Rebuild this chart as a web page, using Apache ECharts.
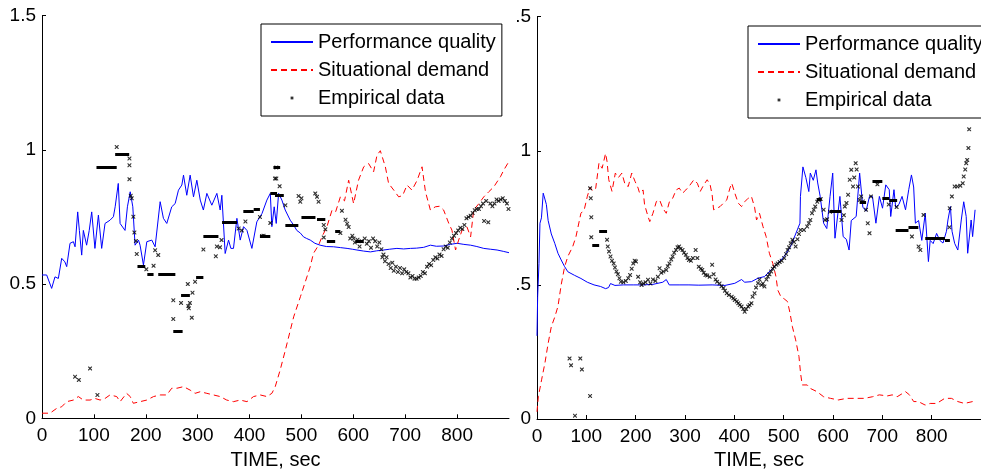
<!DOCTYPE html>
<html>
<head>
<meta charset="utf-8">
<script src="https://cdn.jsdelivr.net/npm/echarts@6/dist/echarts.min.js"></script>
<style>
html,body{margin:0;padding:0;background:#fff;}
#chart{width:981px;height:476px;}
</style>
</head>
<body>
<div id="chart"></div>
<script>
// ---------- tick labels ----------
var xTicks = [0, 100, 200, 300, 400, 500, 600, 700, 800];
var yTicks = [0, 0.5, 1, 1.5];
var rightYLabels = ['0', '.5', '1', '.5'];
var legendNames = ['Performance quality', 'Situational demand', 'Empirical data'];
var xTitle = 'TIME, sec';

// ---------- LEFT panel ----------
var perfL = [[0,0.534],[9,0.534],[18.6,0.484],[25,0.527],[31.5,0.521],[38,0.596],[44,0.583],[47.6,0.565],[54,0.652],[60.5,0.658],[63.7,0.639],[68.8,0.769],[72,0.70],[76.5,0.608],[79.7,0.70],[86,0.645],[91,0.70],[95.8,0.769],[102,0.633],[108.7,0.757],[115,0.633],[121.5,0.726],[131,0.738],[137.6,0.751],[141,0.788],[147,0.875],[150.5,0.726],[160,0.70],[164.6,0.788],[170,0.844],[175,0.788],[179.4,0.645],[186,0.664],[189,0.645],[195.5,0.571],[202,0.658],[211.6,0.664],[218,0.639],[227.7,0.807],[234,0.745],[240.5,0.726],[250,0.788],[256.6,0.80],[263,0.85],[269.5,0.869],[272.7,0.906],[279,0.831],[285.5,0.906],[292,0.825],[298.4,0.887],[305,0.813],[311,0.776],[317.7,0.838],[327.3,0.794],[337,0.838],[343.4,0.776],[346.6,0.831],[353,0.614],[359.5,0.664],[364,0.633],[369,0.633],[375.6,0.745],[382,0.664],[388.4,0.714],[395,0.70],[404.5,0.633],[414,0.732],[424,0.763],[433.4,0.813],[440,0.838],[443,0.714],[447.5,0.788],[451.4,0.726],[456,0.838],[462.3,0.813],[468.7,0.776],[478.4,0.738],[485,0.72],[491,0.70],[498,0.69],[504,0.676],[510,0.67],[517,0.664],[526,0.652],[536,0.645],[548,0.64],[562,0.639],[575,0.636],[588,0.633],[598,0.63],[607,0.627],[620,0.623],[633,0.62],[645,0.624],[658.4,0.627],[670,0.63],[684,0.633],[697,0.631],[710,0.633],[722,0.634],[735.6,0.637],[748.5,0.645],[760,0.641],[774,0.642],[787,0.648],[800,0.652],[813,0.648],[826,0.645],[838,0.64],[851.4,0.633],[864,0.63],[877,0.627],[889,0.622],[900,0.617]];

var demandL = [[0,0.019],[15.4,0.019],[28.3,0.037],[38,0.043],[47.6,0.062],[60.5,0.068],[70,0.081],[79.7,0.068],[92.6,0.068],[102,0.074],[112,0.068],[121.5,0.074],[131,0.087],[144,0.081],[150.5,0.062],[163,0.093],[170,0.081],[176,0.056],[189,0.062],[202,0.068],[215,0.081],[227.7,0.087],[240.5,0.087],[250,0.112],[260,0.112],[272.7,0.118],[285.5,0.105],[295,0.093],[305,0.099],[317.7,0.093],[330.5,0.087],[343.4,0.081],[356,0.068],[369,0.062],[382,0.068],[395,0.062],[407.7,0.081],[420.6,0.087],[433.4,0.081],[443,0.093],[449.5,0.118],[459,0.18],[469,0.254],[485,0.378],[498,0.453],[517,0.565],[523,0.614],[533,0.645],[539.5,0.676],[549,0.713],[559,0.776],[566,0.77],[575,0.825],[583,0.81],[591,0.887],[600.5,0.80],[610,0.887],[620,0.937],[629.5,0.949],[639,0.918],[645.6,0.98],[652,0.997],[661.7,0.937],[668,0.875],[678,0.85],[687.4,0.825],[695,0.83],[703.5,0.869],[713,0.85],[723,0.887],[732.4,0.937],[739,0.844],[748.5,0.776],[758,0.788],[766,0.79],[774,0.776],[784,0.726],[790,0.701],[797,0.627],[803,0.664],[809.6,0.701],[819,0.713],[826,0.676],[832,0.776],[842,0.80],[851.4,0.825],[861,0.844],[870.6,0.862],[883.5,0.90],[890,0.925],[899.6,0.956]];

var empL = [[63.7,0.155],[71,0.143],[92.6,0.186],[106.8,0.087],[144,1.011],[168.5,0.968],[168.5,0.943],[168.5,0.891],[171,0.829],[173,0.82],[176,0.751],[178,0.692],[181,0.661],[182.6,0.612],[201,0.555],[215,0.568],[218,0.626],[224,0.608],[253,0.44],[253,0.37],[268,0.43],[281,0.50],[282,0.418],[285,0.43],[283,0.41],[288.7,0.375],[290,0.468],[295,0.509],[311,0.629],[337,0.64],[343,0.637],[346,0.664],[335,0.604],[379,0.707],[385,0.70],[392,0.733],[420,0.75],[424,0.679],[427,0.68],[440,0.728],[451.5,0.893],[451.5,0.934],[449,0.893],[458,0.865],[469,0.794],[494.5,0.828],[497.7,0.807],[500,0.82],[526.6,0.838],[530,0.825],[533,0.807],[543,0.72],[546,0.704],[543,0.674],[575,0.69],[578,0.773],[585,0.74],[588,0.725],[591,0.713],[600.6,0.67],
[594,0.67],[598,0.68],[603,0.655],[608,0.665],[612,0.64],[616,0.66],[622,0.67],[626,0.65],[630,0.66],[634,0.635],[638,0.67],[642,0.66],[646,0.64],[650,0.655],[654,0.63],[656,0.60],[658,0.61],[661,0.585],[664,0.6],[668,0.575],[672,0.56],[675,0.58],[678,0.55],[682,0.565],[686,0.545],[690,0.56],[694,0.54],[698,0.555],[702,0.545],[706,0.54],[710,0.525],[714,0.53],[718,0.52],[722,0.52],[726,0.525],[730,0.53],[734,0.545],[738,0.54],[742,0.565],[746,0.575],[750,0.57],[754,0.59],[758,0.6],[762,0.595],[766,0.61],[770,0.605],[774,0.63],[778,0.64],[782,0.635],[786,0.655],[790,0.67],[794,0.68],[798,0.69],[802,0.70],[806,0.71],[810,0.705],[814,0.72],[818,0.745],[822,0.75],[826,0.755],[830,0.765],[834,0.775],[838,0.78],[842,0.78],[846,0.79],[850,0.80],[852,0.735],[856,0.81],[860,0.73],[864,0.80],[868,0.79],[872,0.80],[876,0.815],[880,0.81],[884,0.815],[888,0.82],[892,0.81],[896,0.80],[899,0.78]];

// runs of repeated samples: [start, end, value]
var empRunsL = [[105,144,0.937],[141,168,0.984],[184,199,0.567],[203,215,0.536],[224,257,0.537],[253,271,0.326],[268,285,0.46],[297,311,0.527],[311,340,0.679],[347,376,0.732],[388,408,0.773],[408,420,0.778],[420,440,0.68],[440,453,0.838],[446,459,0.934],[449,466,0.831],[469,494,0.72],[500,527,0.748],[530,546,0.74],[549,565,0.661],[565,575,0.698],[604,620,0.66]];

// ---------- RIGHT panel ----------
var perfR = [[0,0.31],[1.3,0.456],[4,0.58],[6,0.73],[9,0.75],[12.6,0.842],[16,0.82],[19,0.80],[22.6,0.74],[29,0.69],[36,0.655],[42.5,0.618],[49,0.593],[56,0.568],[62.5,0.549],[75.7,0.536],[89,0.524],[102,0.51],[115.6,0.50],[129,0.494],[139,0.486],[145,0.49],[149,0.505],[158,0.498],[175,0.50],[195,0.50],[215,0.50],[235,0.502],[255,0.51],[262,0.52],[268,0.50],[288,0.50],[308,0.50],[328,0.499],[355,0.50],[381,0.498],[401,0.506],[414.6,0.52],[421,0.51],[434.6,0.512],[448,0.525],[461,0.531],[474.5,0.556],[488,0.58],[501,0.606],[514,0.643],[527.6,0.705],[533,0.73],[534,0.83],[539,0.94],[545,0.90],[551,0.848],[554,0.917],[560,0.89],[565.5,0.929],[569,0.88],[574,0.83],[581,0.73],[587.4,0.71],[594,0.83],[599.4,0.917],[604,0.674],[614,0.83],[620.6,0.68],[627,0.67],[632.6,0.63],[637,0.74],[647,0.755],[654,0.917],[660.5,0.79],[667,0.775],[674,0.83],[680,0.83],[687,0.73],[694,0.83],[700.4,0.786],[707,0.873],[714,0.855],[717,0.755],[723.6,0.855],[727,0.79],[733.6,0.80],[740,0.83],[747,0.78],[753.5,0.855],[759,0.91],[763.5,0.865],[767,0.73],[773.5,0.74],[780,0.666],[787,0.767],[793.4,0.587],[797,0.666],[803,0.654],[810,0.692],[816.6,0.666],[823,0.656],[830,0.70],[833,0.742],[838,0.792],[841.3,0.70],[846.6,0.655],[853,0.63],[860,0.742],[865,0.81],[870,0.755],[873,0.618],[880,0.742],[883,0.68],[888,0.78]];

var demandR = [[0,0.027],[2.7,0.083],[9.3,0.146],[16,0.208],[22.6,0.282],[29,0.344],[36,0.38],[42.5,0.42],[49,0.50],[56,0.568],[62.5,0.606],[72.4,0.643],[79,0.68],[89,0.767],[95.7,0.78],[102,0.83],[107.6,0.864],[113,0.85],[119,0.86],[125.6,0.954],[132,0.935],[139,0.99],[142,0.96],[145.5,0.892],[152,0.849],[158.8,0.917],[165,0.90],[172,0.917],[178.7,0.873],[185,0.867],[192,0.917],[198.7,0.886],[205,0.861],[208,0.842],[215,0.854],[218,0.80],[225,0.755],[228.6,0.736],[235,0.767],[242,0.811],[248.5,0.817],[255,0.786],[262,0.767],[268.4,0.81],[275,0.823],[282,0.854],[288.4,0.861],[295,0.842],[301.7,0.854],[308,0.867],[318,0.892],[325,0.879],[331,0.849],[338,0.873],[345,0.892],[351,0.873],[355,0.836],[358,0.78],[365,0.786],[371,0.792],[378,0.805],[384.7,0.817],[391,0.861],[394.7,0.879],[401,0.842],[408,0.805],[414.6,0.792],[421,0.81],[428,0.823],[434.6,0.83],[441,0.79],[445,0.742],[451,0.767],[458,0.718],[464.5,0.68],[471,0.618],[478,0.58],[484.4,0.531],[488,0.481],[494.4,0.456],[501,0.448],[507.7,0.438],[513,0.394],[517.7,0.344],[524.3,0.295],[531,0.233],[534.3,0.17],[537.6,0.127],[547.6,0.127],[554,0.114],[567.5,0.102],[581,0.083],[595,0.077],[610.7,0.071],[628,0.077],[647.3,0.077],[664,0.077],[680,0.083],[694,0.09],[710,0.086],[720,0.09],[730,0.083],[747,0.102],[755,0.09],[763.5,0.065],[773,0.065],[786.8,0.052],[797,0.058],[810,0.058],[826.6,0.077],[840,0.077],[853,0.065],[866.5,0.058],[883,0.065],[890,0.06]];

var empR = [[66,0.226],[69,0.2],[87.7,0.226],[91,0.185],[107.6,0.086],[77,0.012],[107.6,0.86],[109,0.823],[110,0.752],[110,0.678],[142,0.668],[143.5,0.643],[146,0.625],[149,0.606],[152,0.59],[155.5,0.58],[158,0.565],[161,0.55],[164,0.54],[167,0.525],[170,0.512],[175,0.51],[180,0.515],[185,0.525],[188.7,0.537],[192,0.56],[195,0.58],[198,0.59],[200.7,0.587],[205,0.53],[209,0.51],[212,0.50],[216,0.505],[220,0.51],[225,0.519],[230,0.505],[235,0.52],[240,0.515],[245,0.53],[248.5,0.562],[252,0.545],[256,0.55],[262,0.556],[265,0.57],[268.4,0.58],[272,0.595],[275,0.606],[278,0.62],[281.7,0.63],[285,0.64],[288,0.643],[291,0.635],[295,0.63],[298,0.62],[301.7,0.612],[305,0.60],[308,0.593],[312,0.59],[316,0.60],[321.6,0.63],[325,0.60],[328,0.568],[332,0.56],[335,0.556],[338,0.545],[341.5,0.537],[345,0.535],[350,0.53],[355,0.575],[358,0.54],[362,0.52],[365,0.512],[370,0.505],[374,0.495],[378,0.488],[381,0.478],[384.7,0.469],[389,0.462],[394.7,0.456],[398,0.45],[401,0.444],[405,0.438],[408,0.432],[411,0.425],[414.6,0.419],[418,0.41],[421,0.40],[424,0.41],[428,0.419],[431,0.425],[434.6,0.432],[437,0.456],[441,0.469],[444,0.49],[448,0.506],[451,0.52],[455,0.50],[458,0.505],[461,0.494],[465,0.52],[468,0.531],[471,0.54],[474.5,0.55],[478,0.56],[481,0.568],[485,0.575],[488,0.58],[492,0.585],[496,0.59],[501,0.60],[505,0.615],[508,0.63],[511,0.64],[514.3,0.655],[517.7,0.668],[521,0.66],[524.3,0.643],[528,0.67],[531,0.69],[534.3,0.705],[541,0.705],[547.6,0.718],[551,0.73],[554,0.742],[557.5,0.767],[561,0.78],[564,0.792],[568,0.81],[571,0.817],[575,0.82],[581,0.78],[584,0.742],[588,0.745],[594,0.773],[617.3,0.742],[622,0.76],[624,0.792],[627.3,0.805],[630.6,0.836],[634,0.892],[637,0.929],[640.6,0.867],[643,0.90],[646,0.954],[648,0.93],[650.6,0.867],[654,0.817],[657,0.83],[660.5,0.811],[667,0.78],[670.5,0.73],[674,0.693],[677,0.83],[690,0.875],[713,0.80],[729,0.79],[760,0.68],[773.5,0.643],[777,0.63],[783.5,0.761],[836.6,0.786],[836,0.715],[841,0.83],[846.6,0.867],[852,0.867],[858,0.87],[863,0.879],[865,0.904],[868,0.93],[870,0.954],[872,0.966],[874.5,1.01],[876,1.08]];

var empRunsR = [[112,126,0.649],[126,142,0.70],[567,577,0.82],[594,617,0.773],[654,667,0.81],[680,700,0.888],[700,714,0.823],[714,730,0.817],[727,753,0.705],[753,773,0.714],[787,827,0.674],[827,837,0.665]];

// ---------- build ----------
var FONT = '"Liberation Sans", Arial, Helvetica, sans-serif';
var xMark = 'path://M0,0L2,0L5,3L8,0L10,0L10,2L7,5L10,8L10,10L8,10L5,7L2,10L0,10L0,8L3,5L0,2Z';
var legendDot = 'path://M0,0M30,10M14,4L16,4L16,6L14,6Z';
var noMark = { color: 'rgba(0,0,0,0)', borderColor: 'rgba(0,0,0,0)', borderWidth: 0, opacity: 0 };

function xAxisCfg(gi) {
  return {
    gridIndex: gi, type: 'value', min: 0, max: 900, interval: 100,
    axisLine: { show: true, onZero: false, lineStyle: { color: '#000', width: 1 } },
    axisTick: { show: true, inside: true, length: 4, customValues: xTicks, lineStyle: { color: '#000' } },
    axisLabel: { customValues: xTicks, fontSize: 19, color: '#000', margin: 8, fontFamily: FONT,
      formatter: function (v) { return xTicks.indexOf(v) >= 0 ? String(v) : ''; } },
    splitLine: { show: false },
    name: xTitle, nameLocation: 'middle', nameGap: 31,
    nameTextStyle: { fontSize: 20, color: '#000', fontFamily: FONT }
  };
}
function yAxisCfg(gi, labels) {
  return {
    gridIndex: gi, type: 'value', min: 0, max: 1.5, interval: 0.5,
    axisLine: { show: true, onZero: false, lineStyle: { color: '#000', width: 1 } },
    axisTick: { show: true, inside: true, length: 4, lineStyle: { color: '#000' } },
    axisLabel: { fontSize: 19, color: '#000', margin: 6, fontFamily: FONT,
      formatter: function (v) { var i = yTicks.indexOf(v); return labels ? labels[i] : String(v); } },
    splitLine: { show: false }
  };
}
function panelSeries(idx, perf, dem, emp, runs) {
  return [
    { name: legendNames[0], type: 'line', xAxisIndex: idx, yAxisIndex: idx, data: perf,
      symbol: 'none', lineStyle: { color: '#0000ff', width: 1 }, itemStyle: { color: '#0000ff' }, z: 2 },
    { name: legendNames[1], type: 'line', xAxisIndex: idx, yAxisIndex: idx, data: dem,
      symbol: 'none', lineStyle: { color: '#ff0000', width: 1, type: [6, 4] }, itemStyle: { color: '#ff0000' }, z: 3 },
    { name: legendNames[2], type: 'scatter', xAxisIndex: idx, yAxisIndex: idx, data: emp,
      symbol: xMark, symbolSize: 4, itemStyle: { color: '#000' }, z: 4 },
    { name: legendNames[2], type: 'lines', coordinateSystem: 'cartesian2d', xAxisIndex: idx, yAxisIndex: idx,
      data: runs.map(function (r) { return { coords: [[r[0], r[2]], [r[1], r[2]]] }; }),
      lineStyle: { color: '#000', width: 3, opacity: 1 }, z: 4 }
  ];
}
function legendCfg(left, top) {
  return {
    left: left, top: top, orient: 'vertical', itemWidth: 42, itemHeight: 14, itemGap: 8,
    padding: [8, 6, 8, 9], borderColor: '#000', borderWidth: 1, backgroundColor: '#fff',
    textStyle: { fontSize: 20, color: '#000', fontFamily: FONT, lineHeight: 20 },
    data: [
      { name: legendNames[0], itemStyle: noMark },
      { name: legendNames[1], itemStyle: noMark },
      { name: legendNames[2], icon: legendDot, itemStyle: { color: '#000' } }
    ],
    selectedMode: false
  };
}

var chart = echarts.init(document.getElementById('chart'), null, { renderer: 'canvas' });
chart.setOption({
  animation: false,
  backgroundColor: '#fff',
  grid: [
    { left: 42, top: 15.7, width: 467, height: 402.6 },
    { left: 537, top: 16.7, width: 451, height: 402.3 }
  ],
  xAxis: [xAxisCfg(0), xAxisCfg(1)],
  yAxis: [yAxisCfg(0, null), yAxisCfg(1, rightYLabels)],
  legend: [legendCfg(261, 24), legendCfg(748, 26)],
  series: panelSeries(0, perfL, demandL, empL, empRunsL).concat(panelSeries(1, perfR, demandR, empR, empRunsR))
});
</script>
</body>
</html>
